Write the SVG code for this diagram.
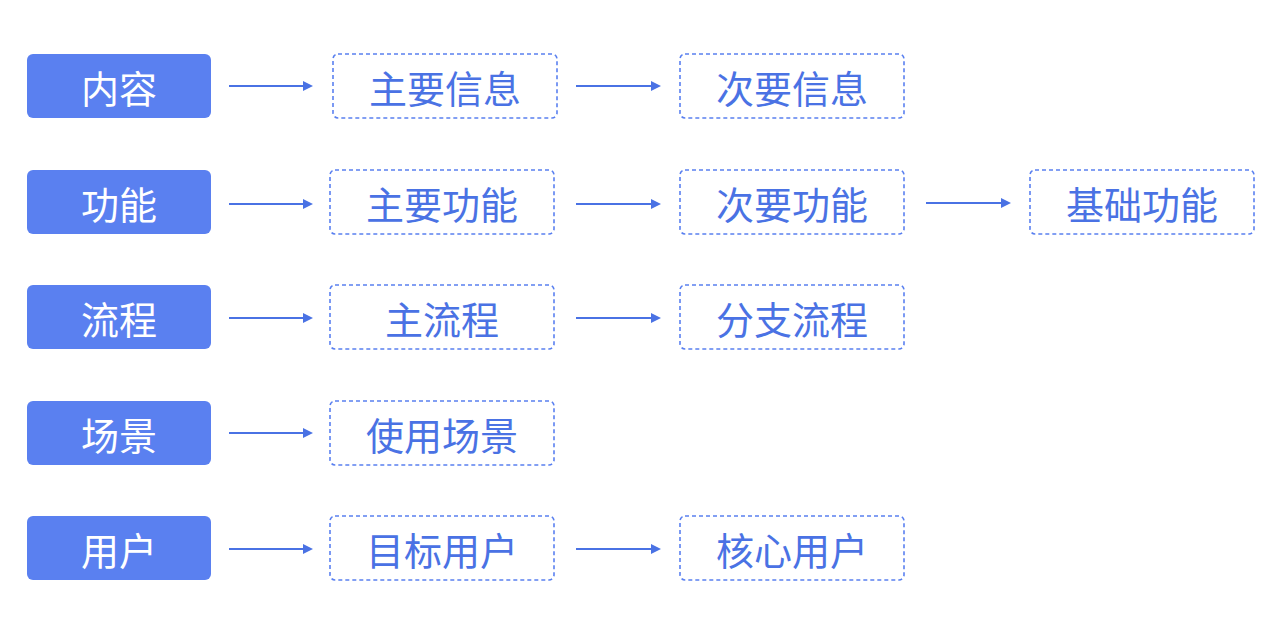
<svg xmlns="http://www.w3.org/2000/svg" width="1284" height="626" viewBox="0 0 1284 626">
<style>
.s{fill:#5a80f0}
.st{fill:#fff;font:38px "Noto Sans CJK SC",sans-serif;text-anchor:middle;dominant-baseline:central}
.d{fill:#fff;stroke:#5a80f0;stroke-width:1.6;stroke-dasharray:4 3}
.dt{fill:#4a72e4;font:38px "Noto Sans CJK SC",sans-serif;text-anchor:middle;dominant-baseline:central}
.c line{stroke:#4a72e4;stroke-width:2;marker-end:url(#a)}
</style>
<defs><marker id="a" markerWidth="10" markerHeight="10" refX="8" refY="5" orient="auto" markerUnits="userSpaceOnUse"><path d="M0,0L10,5L0,10z" fill="#4a72e4"/></marker></defs>
<rect width="1284" height="626" fill="#fff"/>
<g id="n1"><rect class="s" x="27" y="54" width="184" height="64" rx="6"/><text class="st" x="119" y="86">内容</text></g>
<g id="n2"><rect class="s" x="27" y="170" width="184" height="64" rx="6"/><text class="st" x="119" y="202">功能</text></g>
<g id="n3"><rect class="s" x="27" y="285" width="184" height="64" rx="6"/><text class="st" x="119" y="317">流程</text></g>
<g id="n4"><rect class="s" x="27" y="401" width="184" height="64" rx="6"/><text class="st" x="119" y="433">场景</text></g>
<g id="n5"><rect class="s" x="27" y="516" width="184" height="64" rx="6"/><text class="st" x="119" y="548">用户</text></g>
<g id="n1a"><rect class="d" x="333" y="54" width="224" height="64" rx="5"/><text class="dt" x="445" y="86">主要信息</text></g>
<g id="n1b"><rect class="d" x="680" y="54" width="224" height="64" rx="5"/><text class="dt" x="792" y="86">次要信息</text></g>
<g id="n2a"><rect class="d" x="330" y="170" width="224" height="64" rx="5"/><text class="dt" x="442" y="202">主要功能</text></g>
<g id="n2b"><rect class="d" x="680" y="170" width="224" height="64" rx="5"/><text class="dt" x="792" y="202">次要功能</text></g>
<g id="n2c"><rect class="d" x="1030" y="170" width="224" height="64" rx="5"/><text class="dt" x="1142" y="202">基础功能</text></g>
<g id="n3a"><rect class="d" x="330" y="285" width="224" height="64" rx="5"/><text class="dt" x="442" y="317">主流程</text></g>
<g id="n3b"><rect class="d" x="680" y="285" width="224" height="64" rx="5"/><text class="dt" x="792" y="317">分支流程</text></g>
<g id="n4a"><rect class="d" x="330" y="401" width="224" height="64" rx="5"/><text class="dt" x="442" y="433">使用场景</text></g>
<g id="n5a"><rect class="d" x="330" y="516" width="224" height="64" rx="5"/><text class="dt" x="442" y="548">目标用户</text></g>
<g id="n5b"><rect class="d" x="680" y="516" width="224" height="64" rx="5"/><text class="dt" x="792" y="548">核心用户</text></g>
<g class="c">
<line x1="229" y1="86" x2="311" y2="86"/><line x1="576" y1="86" x2="659" y2="86"/>
<line x1="229" y1="204" x2="311" y2="204"/><line x1="576" y1="204" x2="659" y2="204"/><line x1="926" y1="203" x2="1009" y2="203"/>
<line x1="229" y1="318" x2="311" y2="318"/><line x1="576" y1="318" x2="659" y2="318"/>
<line x1="229" y1="433" x2="311" y2="433"/>
<line x1="229" y1="549" x2="311" y2="549"/><line x1="576" y1="549" x2="659" y2="549"/>
</g>
</svg>
